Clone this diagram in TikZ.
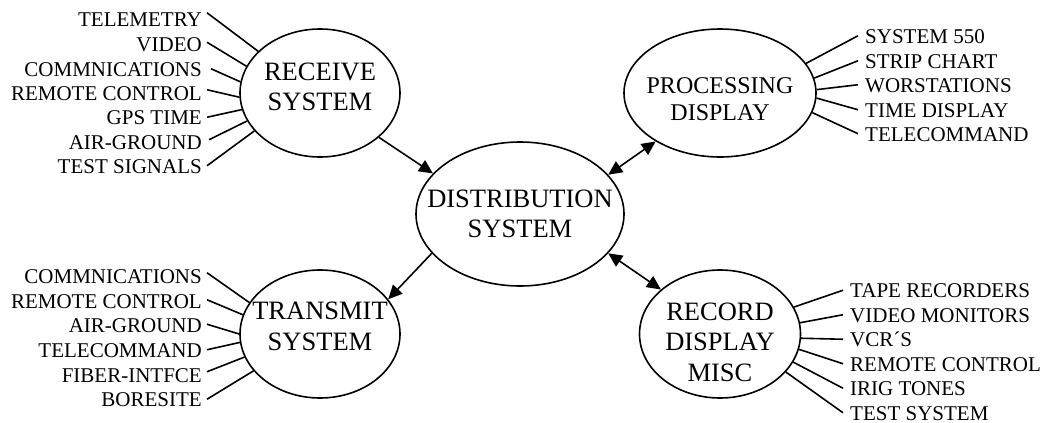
\documentclass[tikz,border=0pt]{standalone}
\usepackage{fontspec}
\setmainfont{Liberation Serif}
\usetikzlibrary{shapes.geometric,arrows.meta}
\begin{document}
\begin{tikzpicture}[x=1pt,y=-1pt,
  lbl/.style={font=\fontsize{21}{24}\selectfont, inner ysep=0pt, text height=14.5pt, text depth=0pt},
  llbl/.style={lbl, anchor=base east, inner xsep=5pt},
  rlbl/.style={lbl, anchor=base west, inner xsep=7pt},
  bubble/.style={ellipse, draw, line width=1.6pt, inner sep=0pt},
  big/.style={font=\fontsize{26.5}{30.5}\selectfont, align=center, inner sep=0pt},
  bigs/.style={font=\fontsize{24}{27.5}\selectfont, align=center, inner sep=0pt},
  wire/.style={line width=1.6pt},
  arr/.style={line width=1.6pt, -{Triangle[length=14pt,width=13pt]}},
  darr/.style={line width=1.6pt, {Triangle[length=14pt,width=13pt]}-{Triangle[length=14pt,width=13pt]}}]
\useasboundingbox (0,0) rectangle (1045,423);

% ellipses
\node[bubble, minimum width=160pt, minimum height=128pt] (recv) at (320,93) {};
\node[big] (recvt) at (320,87) {RECEIVE\\SYSTEM};
\node[bubble, minimum width=160pt, minimum height=128pt] (tran) at (320,334) {};
\node[big] (trant) at (320,326.5) {TRANSMIT\\SYSTEM};
\node[bubble, minimum width=208pt, minimum height=144pt] (dist) at (520,214) {};
\node[big] (distt) at (520,214) {DISTRIBUTION\\SYSTEM};
\node[bubble, minimum width=192pt, minimum height=128pt] (proc) at (720,93) {};
\node[bigs] (proct) at (720,99) {PROCESSING\\DISPLAY};
\node[bubble, minimum width=161pt, minimum height=128pt] (reco) at (720,334) {};
\node[big] (recot) at (720,342) {RECORD\\DISPLAY\\MISC};

% receive labels
\node[llbl] (r1) at (207,27) {TELEMETRY};
\node[llbl] (r2) at (207,51.5) {VIDEO};
\node[llbl] (r3) at (207,76) {COMMNICATIONS};
\node[llbl] (r4) at (207,100) {REMOTE CONTROL};
\node[llbl] (r5) at (207,124.5) {GPS TIME};
\node[llbl] (r6) at (207,149) {AIR-GROUND};
\node[llbl] (r7) at (207,173) {TEST SIGNALS};
\draw[wire] ([yshift=7pt]r1.east) -- (recv.146.5);
\draw[wire] ([yshift=2pt]r2.east) -- (recv.160.4);
\draw[wire] ([xshift=4pt]r3.east) -- (recv.172);
\draw[wire] ([yshift=3pt]r4.east) -- (recv.183.5);
\draw[wire] (r5.east) -- (recv.192);
\draw[wire] ([xshift=2pt,yshift=2pt]r6.east) -- (recv.201.7);
\draw[wire] (r7.east) -- (recv.210);

% transmit labels
\node[llbl] (t1) at (207,283) {COMMNICATIONS};
\node[llbl] (t2) at (207,308) {REMOTE CONTROL};
\node[llbl] (t3) at (207,332.5) {AIR-GROUND};
\node[llbl] (t4) at (207,357) {TELECOMMAND};
\node[llbl] (t5) at (207,382) {FIBER-INTFCE};
\node[llbl] (t6) at (207,406.5) {BORESITE};
\draw[wire] ([yshift=3pt]t1.east) -- (tran.156.7);
\draw[wire] ([yshift=1pt]t2.east) -- (tran.166);
\draw[wire] ([yshift=1pt]t3.east) -- (tran.180.7);
\draw[wire] (t4.east) -- (tran.186);
\draw[wire] ([yshift=3pt]t5.east) -- (tran.197);
\draw[wire] (t6.east) -- (tran.209);

% processing labels
\node[rlbl] (p1) at (858,43) {SYSTEM 550};
\node[rlbl] (p2) at (858,68) {STRIP CHART};
\node[rlbl] (p3) at (858,92) {WORSTATIONS};
\node[rlbl] (p4) at (858,117) {TIME DISPLAY};
\node[rlbl] (p5) at (858,141) {TELECOMMAND};
\draw[wire] (p1.west) -- (proc.19);
\draw[wire] (p2.west) -- (proc.9.8);
\draw[wire] (p3.west) -- (proc.2.4);
\draw[wire] (p4.west) -- (proc.-3.5);
\draw[wire] (p5.west) -- (proc.-12);

% record labels
\node[rlbl] (c1) at (843,297.5) {TAPE RECORDERS};
\node[rlbl] (c2) at (843,322) {VIDEO MONITORS};
\node[rlbl] (c3) at (843,346.5) {VCR´S};
\node[rlbl] (c4) at (843,371) {REMOTE CONTROL};
\node[rlbl] (c5) at (843,395.5) {IRIG TONES};
\node[rlbl] (c6) at (843,420) {TEST SYSTEM};
\draw[wire] (c1.west) -- (reco.20);
\draw[wire] (c2.west) -- (reco.8.4);
\draw[wire] (c3.west) -- (reco.-3);
\draw[wire] (c4.west) -- (reco.-11);
\draw[wire] (c5.west) -- (reco.-21);
\draw[wire] (c6.west) -- (reco.-30);

% arrows
\draw[arr] (recv.-37) -- (dist.155);
\draw[arr] (dist.204.4) -- (tran.27.6);
\draw[darr] (dist.24.7) -- (proc.217.6);
\draw[darr] (dist.-24) -- (reco.143);
\end{tikzpicture}
\end{document}
